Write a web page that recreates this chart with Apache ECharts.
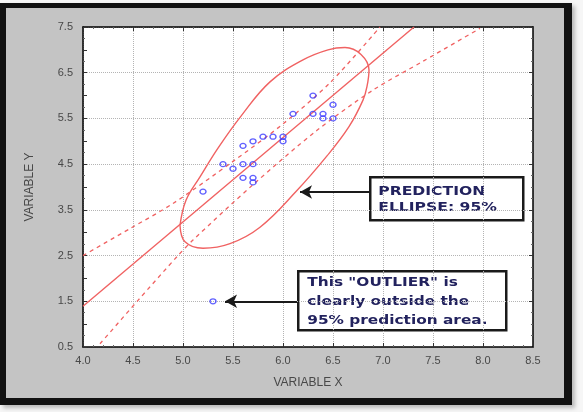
<!DOCTYPE html>
<html>
<head>
<meta charset="utf-8">
<script src="https://cdn.jsdelivr.net/npm/echarts@6/dist/echarts.min.js"></script>
<style>
  html, body { margin: 0; padding: 0; background: #f6f6f6; }
  .frame {
    position: absolute; left: 0; top: 3px; width: 572px; height: 402px;
    box-sizing: border-box; background: #c4c4c4;
    border-style: solid; border-color: #111;
    border-width: 5px 8px 7px 6px;
    box-shadow: 3px 3px 4px rgba(0,0,0,0.25);
  }
  #box { position: absolute; left: 0; top: 0; width: 583px; height: 412px; }
</style>
</head>
<body>
<div class="frame"></div>
<div id="box"></div>
<script>
// observed points (the last one is the outlier)
const pointX = [6.3, 6.5, 6.1, 6.3, 6.4, 6.4, 6.5, 5.8, 5.9, 6.0, 6.0, 5.7, 5.6, 5.4, 5.5, 5.6, 5.7, 5.6, 5.7, 5.7, 5.2, 5.3];
const pointY = [6.0, 5.8, 5.6, 5.6, 5.6, 5.5, 5.5, 5.1, 5.1, 5.1, 5.0, 5.0, 4.9, 4.5, 4.4, 4.5, 4.5, 4.2, 4.2, 4.1, 3.9, 1.5];

// regression line
const fitX = [4.0, 7.31];
const fitY = [1.39, 7.5];

// dashed band, upper and lower
const upperX = [4.0, 4.47, 4.9, 5.5, 6.0, 6.47, 6.97];
const upperY = [2.5, 3.09, 3.64, 4.56, 5.38, 6.28, 7.5];
const lowerX = [4.17, 4.55, 4.95, 5.1, 5.7, 6.34, 6.9, 7.4, 7.97];
const lowerY = [0.57, 1.52, 2.5, 2.84, 4.05, 5.24, 6.12, 6.75, 7.47];

// 95% prediction ellipse
const ellX = [4.97, 5.03, 5.17, 5.35, 5.58, 5.87, 6.2, 6.45, 6.62, 6.78, 6.86, 6.84, 6.8, 6.66, 6.44, 6.13, 5.77, 5.47, 5.2, 5.02, 4.97];
const ellY = [3.16, 3.71, 4.22, 4.85, 5.55, 6.3, 6.78, 7.0, 7.05, 6.9, 6.56, 6.2, 5.9, 5.32, 4.68, 3.9, 3.12, 2.76, 2.66, 2.8, 3.16];

const xLabels = ['4.0', '4.5', '5.0', '5.5', '6.0', '6.5', '7.0', '7.5', '8.0', '8.5'];
const yLabels = ['0.5', '1.5', '2.5', '3.5', '4.5', '5.5', '6.5', '7.5'];

const pairs = (xs, ys) => xs.map((x, i) => [x, ys[i]]);

const red = '#f06262';
const labelStyle = { color: '#484848', fontSize: 11, fontFamily: 'Liberation Sans, Arial' };
const edge = { show: true, onZero: false, lineStyle: { color: '#000', width: 1.5 } };
const tick = { show: true, inside: true, length: 4, lineStyle: { color: '#333' } };
const grey = { show: true, lineStyle: { type: 'dotted', color: '#b4b4b4' } };

let myChart = echarts.init(document.getElementById('box'));
let option = {
  animation: false,
  grid: {
    left: 83, top: 27, width: 450, height: 320,
    show: true, backgroundColor: '#fff', borderColor: '#000', borderWidth: 0
  },
  xAxis: [
    {
      type: 'value', min: 4, max: 8.5, interval: 0.5, position: 'bottom',
      axisLine: edge, axisTick: tick,
      minorTick: { show: true, splitNumber: 5, length: 2, lineStyle: { color: '#666' } },
      axisLabel: Object.assign({ margin: 8, formatter: (v) => xLabels[Math.round((v - 4) / 0.5)] }, labelStyle),
      splitLine: grey,
      name: 'VARIABLE X', nameLocation: 'middle', nameGap: 30,
      nameTextStyle: { color: '#484848', fontSize: 12, fontFamily: 'Liberation Sans, Arial' }
    },
    {
      type: 'value', min: 4, max: 8.5, interval: 0.5, position: 'top',
      axisLine: edge, axisTick: tick,
      minorTick: { show: true, splitNumber: 5, length: 2, lineStyle: { color: '#666' } },
      axisLabel: { show: false }, splitLine: { show: false }
    }
  ],
  yAxis: [
    {
      type: 'value', min: 0.5, max: 7.5, interval: 0.5, position: 'left',
      axisLine: edge, axisTick: tick,
      minorTick: { show: true, splitNumber: 2, length: 2, lineStyle: { color: '#666' } },
      axisLabel: Object.assign({
        margin: 10,
        formatter: (v) => yLabels.indexOf(v.toFixed(1)) >= 0 ? v.toFixed(1) : ''
      }, labelStyle),
      splitLine: { show: false },
      name: 'VARIABLE Y', nameLocation: 'middle', nameGap: 47, nameRotate: 90,
      nameTextStyle: { color: '#484848', fontSize: 12, fontFamily: 'Liberation Sans, Arial' }
    },
    {
      // only used for the right edge and the dotted lines at x.5
      type: 'value', min: 0, max: 7, interval: 1, position: 'right',
      axisLine: edge, axisTick: tick,
      minorTick: { show: true, splitNumber: 4, length: 2, lineStyle: { color: '#666' } },
      axisLabel: { show: false },
      splitLine: grey
    }
  ],
  series: [
    {
      name: 'ellipse', type: 'line', data: pairs(ellX, ellY),
      smooth: 0.4, showSymbol: false, silent: true,
      lineStyle: { color: red, width: 1.4 }
    },
    {
      name: 'fit', type: 'line', data: pairs(fitX, fitY),
      showSymbol: false, silent: true,
      lineStyle: { color: red, width: 1.4 }
    },
    {
      name: 'upper', type: 'line', data: pairs(upperX, upperY),
      smooth: 0.3, showSymbol: false, silent: true,
      lineStyle: { color: red, width: 1.3, type: [4, 4] }
    },
    {
      name: 'lower', type: 'line', data: pairs(lowerX, lowerY),
      smooth: 0.3, showSymbol: false, silent: true,
      lineStyle: { color: red, width: 1.3, type: [4, 4] }
    },
    {
      name: 'points', type: 'scatter', data: pairs(pointX, pointY),
      symbol: 'circle', symbolSize: [6, 5], z: 5,
      itemStyle: { color: 'rgba(0,0,0,0)', borderColor: '#3a3aff', borderWidth: 1.3 },
      markLine: {
        silent: true, symbol: ['none', 'arrow'], symbolSize: [10, 12],
        label: { show: false },
        lineStyle: { color: '#1a1a1a', width: 2, type: 'solid' },
        data: [
          [{ coord: [6.86, 3.89] }, { coord: [6.17, 3.89] }],
          [{ coord: [6.14, 1.5] }, { coord: [5.42, 1.5] }]
        ]
      }
    }
  ],
  graphic: [
    {
      type: 'group', left: 369, top: 176,
      children: [
        { type: 'rect', shape: { x: 0, y: 0, width: 153, height: 43 },
          style: { fill: '#fff', stroke: '#1a1a1a', lineWidth: 2.5 } },
        { type: 'text', x: 8, y: 6, scaleX: 1.2,
          style: { text: 'PREDICTION\nELLIPSE: 95%', fill: '#22225e',
                   font: 'bold 13px "DejaVu Sans", sans-serif', lineHeight: 16.5 } }
      ]
    },
    {
      type: 'group', left: 297, top: 270,
      children: [
        { type: 'rect', shape: { x: 0, y: 0, width: 208, height: 59 },
          style: { fill: '#fff', stroke: '#1a1a1a', lineWidth: 2.5 } },
        { type: 'text', x: 9, y: 2, scaleX: 1.18,
          style: { text: 'This "OUTLIER" is\nclearly outside the\n95% prediction area.', fill: '#22225e',
                   font: 'bold 13px "DejaVu Sans", sans-serif', lineHeight: 18.8 } }
      ]
    }
  ]
};
myChart.setOption(option);
</script>
</body>
</html>
